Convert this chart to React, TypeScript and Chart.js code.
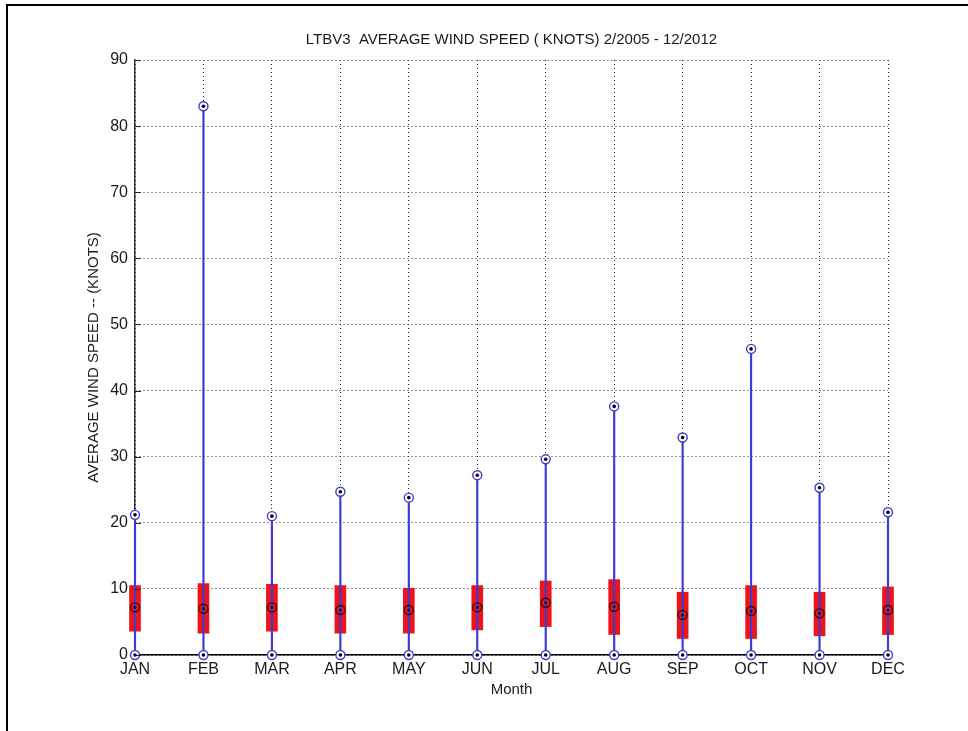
import React, { useEffect, useRef } from "react";
import { Chart, registerables } from "chart.js";

Chart.register(...registerables);

const months = ["JAN", "FEB", "MAR", "APR", "MAY", "JUN", "JUL", "AUG", "SEP", "OCT", "NOV", "DEC"];
const maxValues = [21.2, 83.0, 21.0, 24.7, 23.8, 27.2, 29.6, 37.6, 32.9, 46.3, 25.3, 21.6];
const minValues = [0, 0, 0, 0, 0, 0, 0, 0, 0, 0, 0, 0];
const q1Values = [3.6, 3.3, 3.6, 3.3, 3.3, 3.8, 4.3, 3.1, 2.5, 2.5, 2.9, 3.1];
const q3Values = [10.5, 10.8, 10.7, 10.5, 10.1, 10.5, 11.2, 11.4, 9.5, 10.5, 9.5, 10.3];
const medianValues = [7.2, 7.0, 7.2, 6.8, 6.8, 7.2, 7.9, 7.3, 6.05, 6.65, 6.3, 6.8];
const yTicks = [0, 10, 20, 30, 40, 50, 60, 70, 80, 90];

const FONT = "'Liberation Sans', Arial, sans-serif";
const BLUE = "#3c3cd0";
const RED = "#f01418";

const innerTicks = {
  id: "innerTicks",
  afterDatasetsDraw(chart: any) {
    const { ctx, chartArea } = chart;
    const y = chart.scales.y;
    ctx.save();
    ctx.strokeStyle = "#222";
    ctx.lineWidth = 1;
    ctx.beginPath();
    yTicks.forEach((v) => {
      const py = Math.round(y.getPixelForValue(v)) + 0.5;
      ctx.moveTo(chartArea.left, py);
      ctx.lineTo(chartArea.left + 6, py);
    });
    ctx.stroke();
    ctx.restore();
  },
};

export default function App() {
  const ref = useRef<HTMLCanvasElement | null>(null);

  useEffect(() => {
    if (!ref.current) return;
    const ring = (data: number[], color: string, fill: string, order: number) => ({
      type: "line" as const,
      data,
      showLine: false,
      pointStyle: "circle",
      pointRadius: 4.5,
      pointBorderWidth: 1.4,
      pointBorderColor: color,
      pointBackgroundColor: fill,
      clip: false as any,
      order,
    });
    const dot = (data: number[], color: string, r: number) => ({
      type: "line" as const,
      data,
      showLine: false,
      pointStyle: "circle",
      pointRadius: r,
      pointBorderWidth: 0,
      pointBackgroundColor: color,
      clip: false as any,
      order: 1,
    });
    const chart = new Chart(ref.current, {
      type: "bar",
      data: {
        labels: months,
        datasets: [
          {
            type: "bar",
            label: "IQR",
            data: months.map((_, i) => [q1Values[i], q3Values[i]]),
            backgroundColor: RED,
            borderWidth: 0,
            barThickness: 11,
            grouped: false,
            clip: false as any,
            order: 5,
          },
          {
            type: "bar",
            label: "Range",
            data: months.map((_, i) => [minValues[i], maxValues[i]]),
            backgroundColor: BLUE,
            borderWidth: 0,
            barThickness: 1.5,
            grouped: false,
            clip: false as any,
            order: 4,
          },
          ring(medianValues, "#2a1010", "rgba(0,0,0,0)", 2),
          dot(medianValues, "#101060", 1.6),
          ring(maxValues, BLUE, "#ffffff", 2),
          dot(maxValues, "#000000", 1.8),
          ring(minValues, BLUE, "#ffffff", 2),
          dot(minValues, "#000000", 1.8),
        ] as any,
      },
      options: {
        responsive: false,
        animation: false,
        devicePixelRatio: 1,
        layout: { padding: { left: 0, right: 80, top: 0, bottom: 0 } },
        plugins: {
          legend: { display: false },
          tooltip: { enabled: false },
          title: {
            display: true,
            text: "LTBV3  AVERAGE WIND SPEED ( KNOTS) 2/2005 - 12/2012",
            fullSize: false,
            color: "#1a1a1a",
            font: { family: FONT, size: 15, weight: "normal" },
            padding: { top: 31, bottom: 11 },
          },
        },
        scales: {
          x: {
            type: "category",
            offset: false,
            grid: {
              offset: false,
              color: "#222",
              lineWidth: 1,
              drawTicks: false,
            } as any,
            border: { display: true, color: "#000", width: 1.5, dash: [1, 3] } as any,
            ticks: {
              color: "#1a1a1a",
              font: { family: FONT, size: 16 },
              padding: 5,
              maxRotation: 0,
              autoSkip: false,
            },
            title: {
              display: true,
              text: "Month",
              color: "#1a1a1a",
              font: { family: FONT, size: 15 },
              padding: { top: 0, bottom: 32 },
            },
            afterFit: (scale: any) => {
              scale.height = 76;
            },
          },
          y: {
            type: "linear",
            min: 0,
            max: 90,
            afterBuildTicks: (scale: any) => {
              scale.ticks = yTicks.map((v) => ({ value: v }));
            },
            grid: {
              color: "#222",
              lineWidth: 1,
              drawTicks: false,
            },
            border: { display: true, color: "#333", width: 1.5, dash: [1, 3] } as any,
            ticks: {
              color: "#1a1a1a",
              font: { family: FONT, size: 16 },
              padding: 7,
            },
            title: {
              display: true,
              text: "AVERAGE WIND SPEED -- (KNOTS)",
              color: "#1a1a1a",
              font: { family: FONT, size: 15 },
              padding: { top: 85, bottom: 0 },
            },
            afterFit: (scale: any) => {
              scale.width = 135;
            },
          },
        },
      },
      plugins: [innerTicks],
    });
    return () => chart.destroy();
  }, []);

  return (
    <div
      style={{
        position: "absolute",
        left: 0,
        top: 0,
        width: 968,
        height: 731,
        overflow: "hidden",
        background: "#fff",
      }}
    >
      <canvas ref={ref} width={968} height={731} style={{ position: "absolute", left: 0, top: 0 }} />
      <div
        style={{
          position: "absolute",
          left: 6,
          top: 4,
          width: 1000,
          height: 1000,
          borderLeft: "2px solid #000",
          borderTop: "2px solid #000",
          boxSizing: "border-box",
          pointerEvents: "none",
        }}
      />
    </div>
  );
}
